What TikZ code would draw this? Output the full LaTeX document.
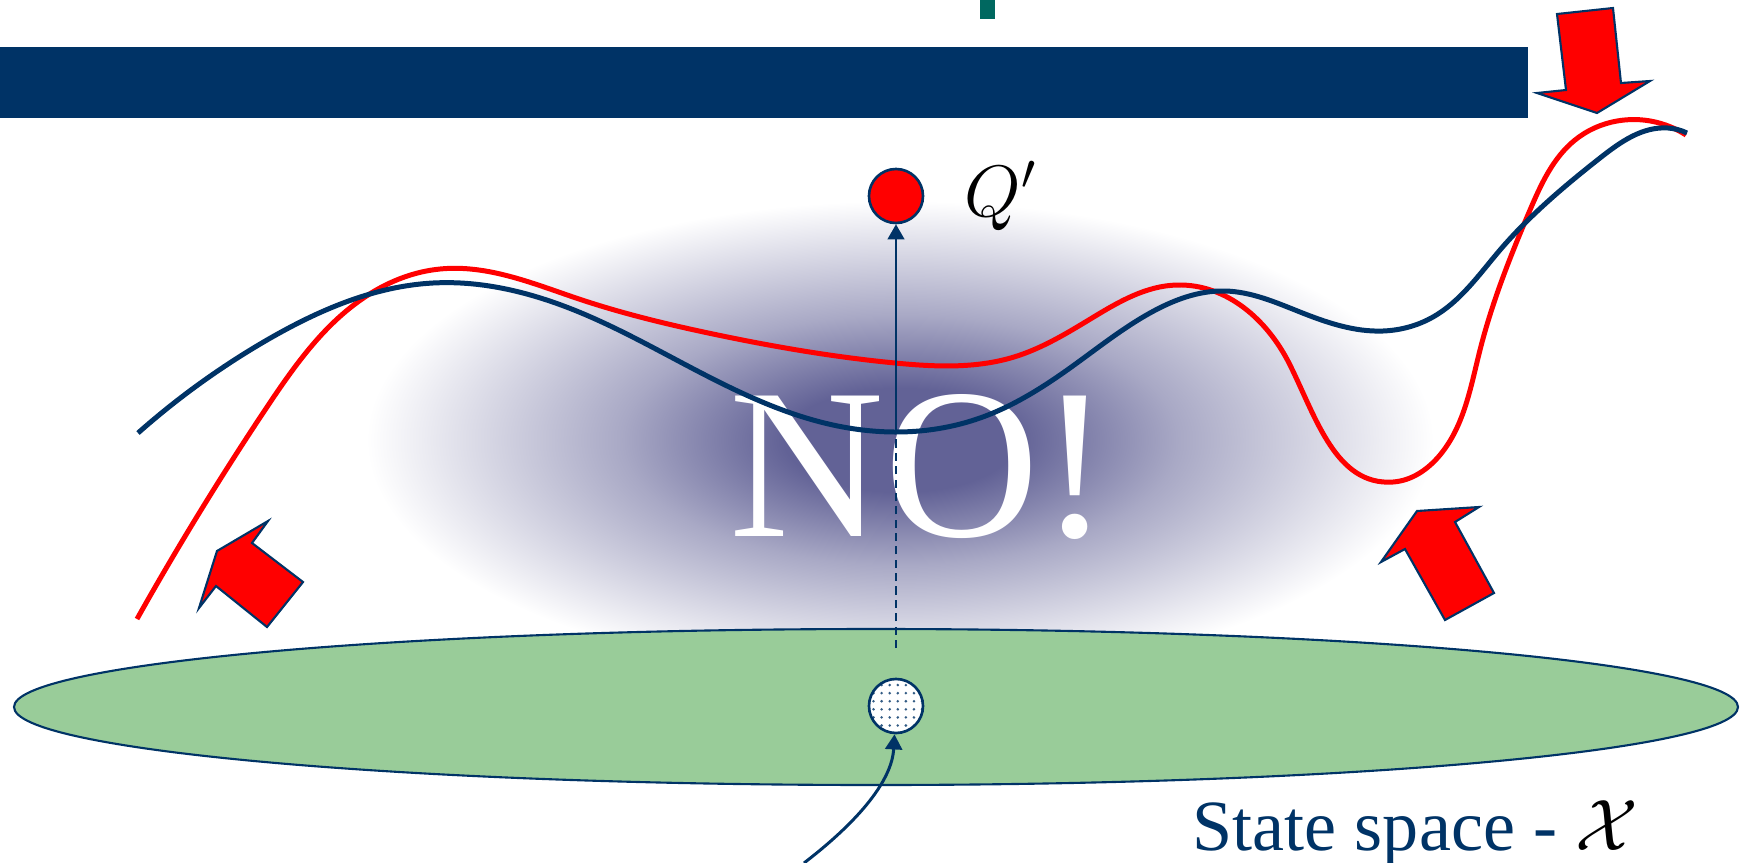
\documentclass[tikz,border=0pt]{standalone}
\usepackage{fontspec}
\setmainfont{Liberation Serif}
\usetikzlibrary{arrows.meta,patterns.meta,hobby}
\definecolor{navy}{RGB}{0,51,102}
\definecolor{leaf}{RGB}{153,204,153}
\definecolor{tealbar}{RGB}{0,104,96}
\definecolor{glowc}{RGB}{98,98,150}
\pgfdeclareradialshading{glow}{\pgfpoint{0bp}{0bp}}{color(0bp)=(glowc); color(5bp)=(glowc); color(12bp)=(glowc!55!white); color(23bp)=(white); color(50bp)=(white)}
\begin{document}
\begin{tikzpicture}[x=0.01cm,y=-0.01cm,>={Triangle[width=4.8pt,length=4.3pt]},
  curve/.style={line width=1.42pt,use Hobby shortcut},
  bigarrow/.style={fill=red,draw=navy,line width=0.6pt},
  point/.style={circle,draw=navy,line width=0.75pt,inner sep=0pt,minimum size=0.54cm}]
  \useasboundingbox (0,0) rectangle (1747,863);
  % glow behind the fit
  \shade[shading=glow] (900,440) ellipse (580 and 260);
  % bars at the top
  \fill[tealbar] (980,0) rectangle (995,19);
  \fill[navy] (0,47) rectangle (1528,118);
  % state space
  \draw[fill=leaf,draw=navy,line width=0.6pt] (876,707) ellipse (862 and 78);
  \node[anchor=base west,inner sep=0pt,font=\fontsize{20.5}{25}\selectfont] (label) at (1192,850)
    {\textcolor{navy}{State space -} $\mathcal{X}$};
  % NO!
  \node[white,inner sep=0pt,font=\fontsize{61}{70}\selectfont] (no) at (920,467) {NO!};
  % true and fitted curves
  \draw[curve,red] (137,619) .. (267,407) .. (368,295) .. (440,269) .. (579,299)
    .. (713,334) .. (895,363) .. (1014,357) .. (1092,318) .. (1177,285) .. (1290,365)
    .. (1393,482) .. (1440,455) .. (1480,350) .. (1530,210) .. (1575,140) .. (1617,121)
    .. (1686,135);
  \draw[curve,navy] (138,433) .. (267,340) .. (433,283) .. (579,312) .. (713,379)
    .. (833,425) .. (895,432) .. (980,418) .. (1070,368) .. (1150,313) .. (1225,291)
    .. (1300,312) .. (1383,331) .. (1433,317) .. (1500,250) .. (1600,158) .. (1668,128)
    .. (1687,133);
  % points
  \node[point,fill=red] (qp) at (896,196) {};
  \node[right=0.28cm,font=\fontsize{19.5}{24}\selectfont] (qlab) at (qp.east) {$Q'$};
  \node[point,preaction={fill=white},pattern={Dots[distance=2.3pt,radius=0.4pt]},pattern color=navy!80] (xs) at (896,706) {};
  \coordinate (base) at (896,648);
  \coordinate (dip) at (896,432);
  \coordinate (src) at (804,863);
  \draw[navy,line width=0.85pt,dash pattern=on 2.3pt off 1.5pt] (base) -- (dip);
  \draw[navy,line width=0.57pt,->] (dip) -- (qp);
  \draw[navy,line width=0.85pt,->] (src) .. controls (860,820) and (892,780) .. (xs);
  % red arrows
  \draw[bigarrow] (217,551) -- (268,521) -- (252,543) -- (303,582) -- (267,627) -- (216,586) -- (199,608) -- cycle;
  \draw[bigarrow] (1417,511) -- (1479,507) -- (1455,522) -- (1494,593) -- (1445,620) -- (1405,549) -- (1381,562) -- cycle;
  \draw[bigarrow] (1557,14) -- (1613,8) -- (1621,83) -- (1650,81) -- (1597,113) -- (1537,93) -- (1566,90) -- cycle;
\end{tikzpicture}
\end{document}
